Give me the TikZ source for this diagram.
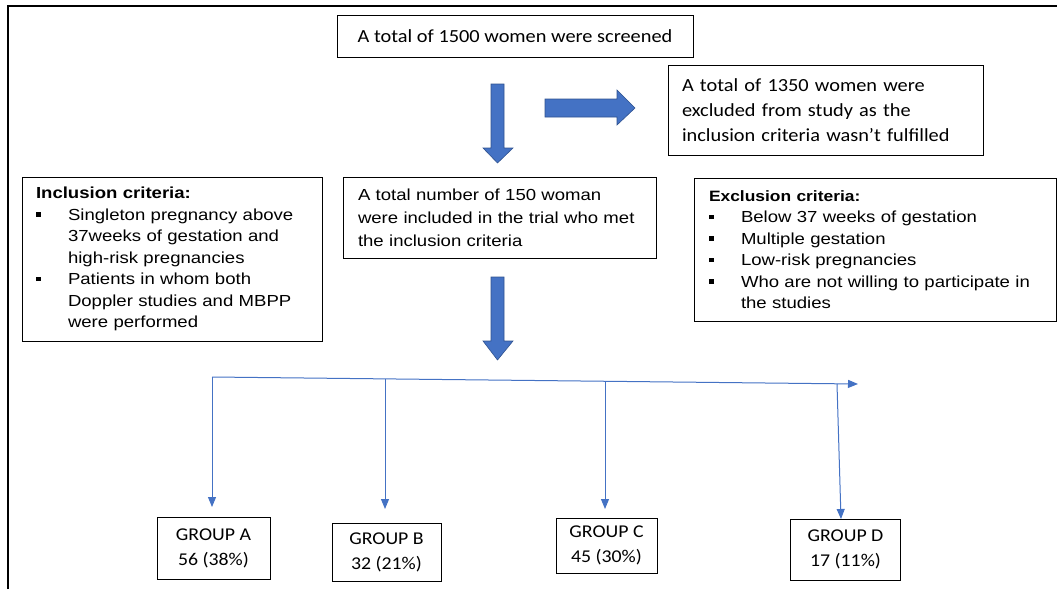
\documentclass[tikz,border=0pt]{standalone}
\usepackage{fontspec}
\usetikzlibrary{arrows.meta}
\newfontfamily\calfont[FakeStretch=1.1]{Carlito}
\newfontfamily\arfont[FakeStretch=1.16]{Liberation Sans}
\definecolor{blk}{HTML}{4472C4}
\definecolor{blkedge}{HTML}{2F528F}
\newcommand\blt{\makebox[32pt][l]{\raisebox{3.5pt}{\rule{4.5pt}{4.5pt}}}}
\newcommand\ind{\hspace*{32pt}}
\begin{document}
\begin{tikzpicture}[x=1pt,y=-1pt,
 box/.style={draw=black,line width=0.9pt,rectangle,inner ysep=0pt},
 calbox/.style={box,font=\calfont\fontsize{18.5}{25}\selectfont},
 arbox/.style={box,font=\arfont\fontsize{16}{21.5}\selectfont},
 grpbox/.style={box,font=\calfont\fontsize{18}{25}\selectfont,align=center},
 blockarrow/.style={fill=blk,draw=blkedge,line width=0.6pt},
 thinarrow/.style={draw=blk,line width=1pt,-{Triangle[length=10pt,width=8pt]}}
]
\useasboundingbox (0,0) rectangle (1057,589);
\draw[line width=1.2pt] (8,589) -- (8,6) -- (1057,6);

\node[calbox,minimum width=356pt,minimum height=42pt] (screen) at (515,36) {A total of 1500 women were screened};

\node[calbox,text width=287pt,inner xsep=14pt,align=left,minimum height=90pt] (excl) at (825.5,110)
 {A total of 1350 women were\\excluded from study as the\\inclusion criteria wasn’t fulfilled};

\node[arbox,text width=272pt,inner xsep=14pt,align=left,minimum height=164pt] (inc) at (172,259)
 {\textbf{Inclusion criteria:}\\\blt Singleton pregnancy above\\\ind 37weeks of gestation and\\\ind high-risk pregnancies\\\blt Patients in whom both\\\ind Doppler studies and MBPP\\\ind were performed};

\node[arbox,text width=283pt,inner xsep=15pt,align=left,minimum height=81pt,font=\arfont\fontsize{16}{23}\selectfont] (mid) at (499.5,217.5)
 {A total number of 150 woman\\were included in the trial who met\\the inclusion criteria};

\node[arbox,text width=332pt,inner xsep=15pt,align=left,minimum height=143pt] (exc) at (875,249.5)
 {{\fontsize{15}{21.5}\selectfont\bfseries Exclusion criteria:}\\\blt Below 37 weeks of gestation\\\blt Multiple gestation\\\blt Low-risk pregnancies\\\blt Who are not willing to participate in\\\ind the studies};

\node[grpbox,minimum width=113pt,minimum height=62pt] (gA) at (213.5,548.5) {GROUP A\\56 (38\%)};
\node[grpbox,minimum width=109pt,minimum height=58pt] (gB) at (386.5,552) {GROUP B\\32 (21\%)};
\node[grpbox,minimum width=101pt,minimum height=55pt] (gC) at (606.5,545.5) {GROUP C\\45 (30\%)};
\node[grpbox,minimum width=110pt,minimum height=61pt] (gD) at (845.5,549.5) {GROUP D\\17 (11\%)};

\path[blockarrow] (491,84) -- (504,84) -- (504,148) -- (513,148) -- (497.5,163) -- (483,148) -- (491,148) -- cycle;
\path[blockarrow] (545,99) -- (617,99) -- (617,90) -- (635,108) -- (617,125) -- (617,117) -- (545,117) -- cycle;
\path[blockarrow] (491,277) -- (504,277) -- (504,341) -- (513,341) -- (497.5,360) -- (483,341) -- (491,341) -- cycle;

\coordinate (hl) at (212,377);
\coordinate (hr) at (858,384);
\coordinate (tB) at (385,379);
\coordinate (tC) at (605,381);
\coordinate (tD) at (837,384);
\coordinate (eA) at (212,507);
\coordinate (eB) at (385,509);
\coordinate (eC) at (605,509);
\coordinate (eD) at (841,519);
\draw[thinarrow] (hl) -- (hr);
\draw[thinarrow] (hl) -- (eA);
\draw[thinarrow] (tB) -- (eB);
\draw[thinarrow] (tC) -- (eC);
\draw[thinarrow] (tD) -- (eD);
\end{tikzpicture}
\end{document}
